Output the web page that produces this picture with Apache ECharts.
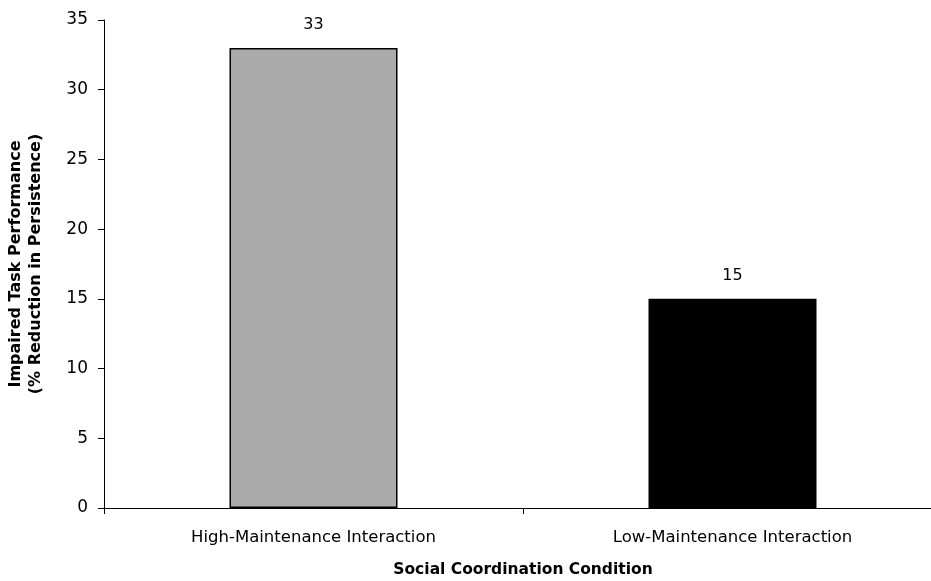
<!DOCTYPE html>
<html>
<head>
<meta charset="utf-8">
<script src="https://cdn.jsdelivr.net/npm/echarts@6/dist/echarts.min.js"></script>
<style>
  html, body { margin: 0; padding: 0; background: #fff; }
  #chart { width: 931px; height: 581px; }
</style>
</head>
<body>
<div id="chart"></div>
<script>
// Conditions and the measured reduction in persistence (%)
const categories = ['High-Maintenance Interaction', 'Low-Maintenance Interaction'];
const values = [33, 15];
const barColors = ['#ababab', '#000000'];
const yTicks = [0, 5, 10, 15, 20, 25, 30, 35];

const chart = echarts.init(document.getElementById('chart'));
const font = 'DejaVu Sans, Verdana, sans-serif';

chart.setOption({
  animation: false,
  backgroundColor: '#ffffff',
  grid: {
    left: 104, top: 20, width: 838, bottom: 73,
    containLabel: false,
    outerBoundsMode: 'none'
  },
  xAxis: {
    type: 'category',
    data: categories,
    name: 'Social Coordination Condition',
    nameLocation: 'middle',
    nameGap: 54,
    nameTextStyle: { fontFamily: font, fontSize: 15.5, fontWeight: 'bold', color: '#000' },
    axisLine: { lineStyle: { color: '#000', width: 1 } },
    axisTick: { show: true, length: 6, lineStyle: { color: '#000' } },
    axisLabel: { fontFamily: font, fontSize: 16.5, color: '#000', margin: 21 }
  },
  yAxis: {
    type: 'value',
    min: yTicks[0],
    max: yTicks[yTicks.length - 1],
    interval: 5,
    name: 'Impaired Task Performance\n(% Reduction in Persistence)',
    nameLocation: 'middle',
    nameGap: 58,
    nameTextStyle: { fontFamily: font, fontSize: 16, fontWeight: 'bold', color: '#000', lineHeight: 20 },
    axisLine: { show: true, lineStyle: { color: '#000', width: 1 } },
    axisTick: { show: true, length: 6, lineStyle: { color: '#000' } },
    axisLabel: { fontFamily: font, fontSize: 17, color: '#000', margin: 16 },
    splitLine: { show: false }
  },
  series: [{
    type: 'bar',
    barWidth: 168,
    data: values.map((v, i) => ({
      value: v,
      itemStyle: { color: barColors[i], borderColor: '#000', borderWidth: 1.5 }
    })),
    label: {
      show: true,
      position: 'top',
      distance: 15,
      fontFamily: font,
      fontSize: 16,
      color: '#000'
    }
  }]
});
</script>
</body>
</html>
